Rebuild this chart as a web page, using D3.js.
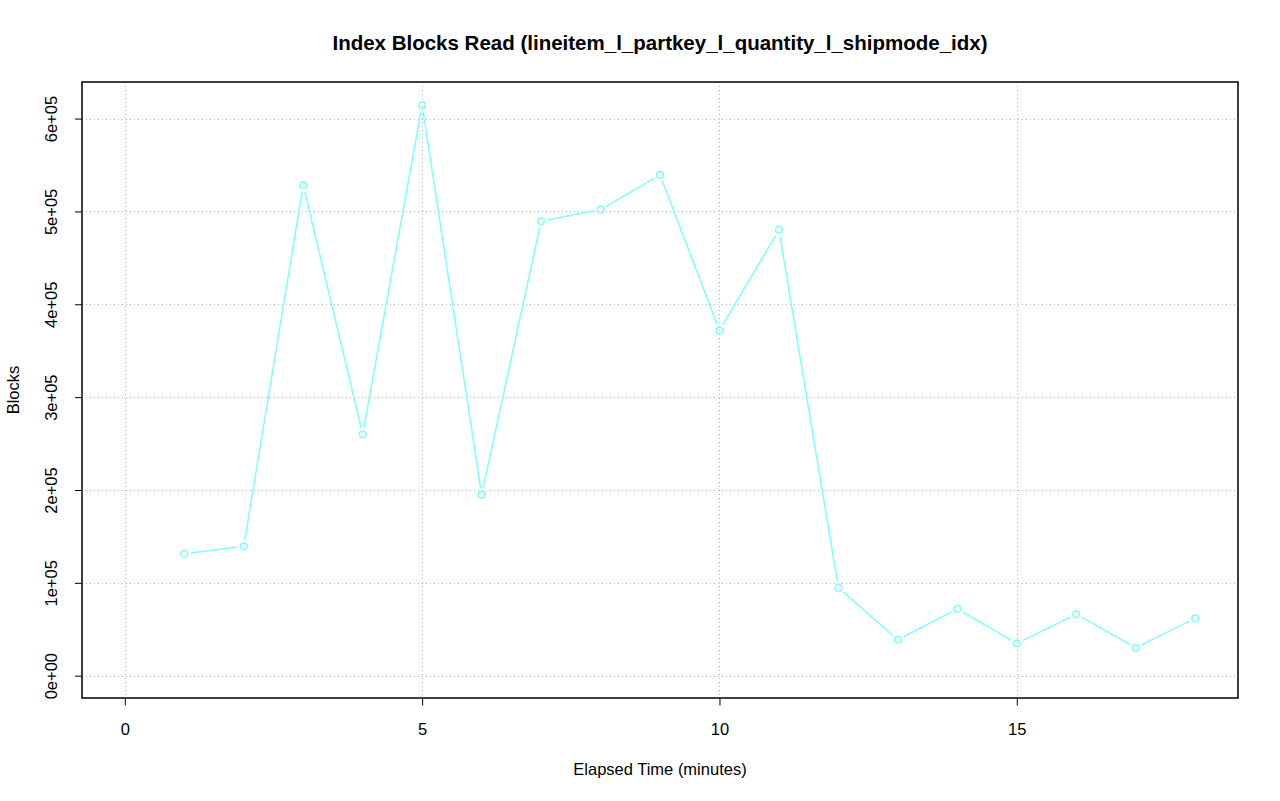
<!DOCTYPE html>
<html>
<head>
<meta charset="utf-8">
<script src="https://cdn.jsdelivr.net/npm/d3@7"></script>
<style>
  body { margin: 0; background: #fff; }
  svg { display: block; font-family: "Liberation Sans", Arial, Helvetica, sans-serif; }
</style>
</head>
<body>
<svg id="chart" width="1280" height="801"></svg>
<script>
const title = "Index Blocks Read (lineitem_l_partkey_l_quantity_l_shipmode_idx)";
const xLabel = "Elapsed Time (minutes)";
const yLabel = "Blocks";
const minutes = [1, 2, 3, 4, 5, 6, 7, 8, 9, 10, 11, 12, 13, 14, 15, 16, 17, 18];
const blocks = [131300, 139400, 528200, 260000, 614300, 194800, 489400, 502000, 539400,
                371700, 480100, 94600, 38700, 72000, 34700, 66200, 30000, 61900];
const xTicks = [0, 5, 10, 15];
const yTicks = [0, 100000, 200000, 300000, 400000, 500000, 600000];
const yTickLabels = ["0e+00", "1e+05", "2e+05", "3e+05", "4e+05", "5e+05", "6e+05"];

(function () {
const svg = d3.select("#chart");
const pL = 82, pR = 1238, pT = 82, pB = 698.5;
const lineColor = "#7dffff";
const fs = 16.5;
const ff = "Liberation Sans, Arial, sans-serif";

const xmin = 0, xmax = d3.max(minutes);
const xpad = (xmax - xmin) * 0.04;
const x = d3.scaleLinear().domain([xmin - xpad, xmax + xpad]).range([pL, pR]);
const ymin = 0, ymax = d3.max(blocks);
const ypad = (ymax - ymin) * 0.04;
const y = d3.scaleLinear().domain([ymin - ypad, ymax + ypad]).range([pB, pT + 0.5]);

// grid
const grid = svg.append("g").attr("stroke", "#b4b4b4").attr("stroke-width", 1)
  .attr("stroke-dasharray", "1,3");
grid.selectAll("line.v").data(xTicks).join("line").attr("class", "v")
  .attr("x1", d => Math.round(x(d)) + 0.5).attr("x2", d => Math.round(x(d)) + 0.5)
  .attr("y1", pT).attr("y2", pB);
grid.selectAll("line.h").data(yTicks).join("line").attr("class", "h")
  .attr("y1", d => Math.round(y(d)) + 0.5).attr("y2", d => Math.round(y(d)) + 0.5)
  .attr("x1", pL).attr("x2", pR);

// axes
const xAxis = d3.axisBottom(x).tickValues(xTicks).tickSize(7).tickPadding(18)
  .tickFormat(d3.format("d"));
const gx = svg.append("g").attr("transform", `translate(0,${pB})`).call(xAxis);
gx.select(".domain").remove();
gx.selectAll("line").attr("stroke", "#000");
gx.selectAll("text").attr("font-size", fs).attr("fill", "#000").attr("font-family", ff);

const yAxis = d3.axisLeft(y).tickValues(yTicks).tickSize(7)
  .tickFormat((d, i) => yTickLabels[i]);
const gy = svg.append("g").attr("transform", `translate(${pL},0)`).call(yAxis);
gy.select(".domain").remove();
gy.selectAll("line").attr("stroke", "#000");
gy.selectAll("text")
  .attr("font-size", fs).attr("fill", "#000").attr("font-family", ff)
  .attr("x", null)
  .attr("text-anchor", "middle")
  .attr("transform", "translate(-31,0) rotate(-90)")
  .attr("dy", "0.35em");

// box
svg.append("rect").attr("x", pL).attr("y", pT)
  .attr("width", pR - pL).attr("height", 698 - pT)
  .attr("fill", "none").attr("stroke", "#000").attr("stroke-width", 1.5);

// line segments with gaps (type = "b")
const pts = minutes.map((m, i) => [x(m), y(blocks[i])]);
const gap = 6.5;
const segs = [];
for (let i = 0; i < pts.length - 1; i++) {
  const [x1, y1] = pts[i], [x2, y2] = pts[i + 1];
  const dx = x2 - x1, dy = y2 - y1, len = Math.hypot(dx, dy);
  if (len > 2 * gap) {
    const ux = dx / len, uy = dy / len;
    segs.push([x1 + ux * gap, y1 + uy * gap, x2 - ux * gap, y2 - uy * gap]);
  }
}
svg.append("g").selectAll("line").data(segs).join("line")
  .attr("x1", d => d[0]).attr("y1", d => d[1])
  .attr("x2", d => d[2]).attr("y2", d => d[3])
  .attr("stroke", lineColor).attr("stroke-width", 1.5);

svg.append("g").selectAll("circle").data(minutes).join("circle")
  .attr("cx", d => x(d)).attr("cy", (d, i) => y(blocks[i])).attr("r", 3.3)
  .attr("fill", "none").attr("stroke", lineColor).attr("stroke-width", 1.5);

// labels
svg.append("text").attr("x", (pL + pR) / 2).attr("y", 50)
  .attr("text-anchor", "middle").attr("font-weight", "bold").attr("font-size", 20.5)
  .attr("font-family", ff).text(title);
svg.append("text").attr("x", (pL + pR) / 2).attr("y", 775)
  .attr("text-anchor", "middle").attr("font-size", fs).attr("font-family", ff).text(xLabel);
svg.append("text").attr("transform", `translate(18.5,${(pT + 698) / 2}) rotate(-90)`)
  .attr("text-anchor", "middle").attr("font-size", fs).attr("font-family", ff).text(yLabel);
})();
</script>
</body>
</html>
